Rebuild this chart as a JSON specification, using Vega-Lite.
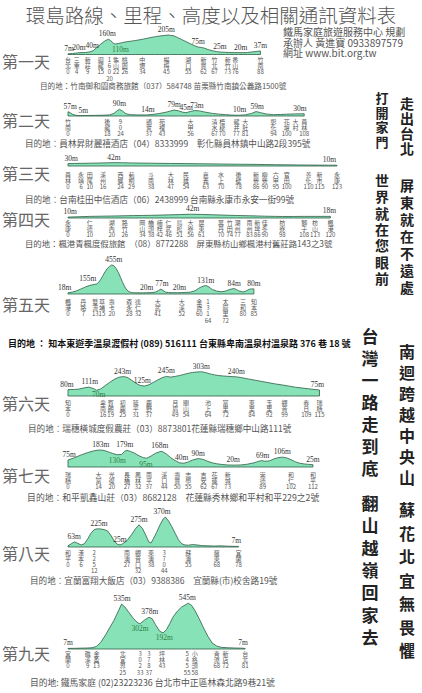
{
"$schema":"https://vega.github.io/schema/vega-lite/v6.json",
"padding":0,
"background":"white",
"config":{"view":{"stroke":null}},
"spacing":0,
"bounds":"flush",
"datasets":{
"profile":[
{"d":1,"km":0,"m":7},{"d":1,"km":2,"m":10},{"d":1,"km":4,"m":16},{"d":1,"km":6,"m":20},{"d":1,"km":8,"m":21},{"d":1,"km":10,"m":28},{"d":1,"km":11.5,"m":40},{"d":1,"km":13,"m":70},{"d":1,"km":15,"m":110},{"d":1,"km":17,"m":145},{"d":1,"km":18.5,"m":160},{"d":1,"km":19.5,"m":148},{"d":1,"km":20.5,"m":122},{"d":1,"km":21.5,"m":110},{"d":1,"km":23,"m":115},{"d":1,"km":25,"m":126},{"d":1,"km":27,"m":135},{"d":1,"km":29,"m":141},{"d":1,"km":31,"m":148},{"d":1,"km":34,"m":160},{"d":1,"km":37,"m":175},{"d":1,"km":40,"m":188},{"d":1,"km":42,"m":195},{"d":1,"km":44,"m":200},{"d":1,"km":46,"m":205},{"d":1,"km":47,"m":199},{"d":1,"km":48,"m":200},{"d":1,"km":50,"m":180},{"d":1,"km":52,"m":158},{"d":1,"km":54,"m":135},{"d":1,"km":56,"m":112},{"d":1,"km":58,"m":92},{"d":1,"km":59.5,"m":78},{"d":1,"km":61,"m":74},{"d":1,"km":62.5,"m":66},{"d":1,"km":64,"m":52},{"d":1,"km":66,"m":40},{"d":1,"km":68,"m":30},{"d":1,"km":70,"m":25},{"d":1,"km":72,"m":23},{"d":1,"km":74,"m":21},{"d":1,"km":76,"m":20},{"d":1,"km":78,"m":20},{"d":1,"km":80,"m":19},{"d":1,"km":82,"m":21},{"d":1,"km":84,"m":26},{"d":1,"km":86,"m":32},{"d":1,"km":88,"m":37},
{"d":2,"km":0,"m":57},{"d":2,"km":1,"m":45},{"d":2,"km":2,"m":25},{"d":2,"km":3.5,"m":10},{"d":2,"km":5,"m":5},{"d":2,"km":8,"m":6},{"d":2,"km":12,"m":8},{"d":2,"km":16,"m":10},{"d":2,"km":19,"m":15},{"d":2,"km":21,"m":35},{"d":2,"km":22.5,"m":70},{"d":2,"km":23.5,"m":90},{"d":2,"km":25,"m":65},{"d":2,"km":26.5,"m":30},{"d":2,"km":28.5,"m":18},{"d":2,"km":32,"m":14},{"d":2,"km":36,"m":14},{"d":2,"km":39,"m":22},{"d":2,"km":42,"m":35},{"d":2,"km":45,"m":52},{"d":2,"km":47,"m":68},{"d":2,"km":48.5,"m":79},{"d":2,"km":50.5,"m":70},{"d":2,"km":52.5,"m":50},{"d":2,"km":54,"m":45},{"d":2,"km":56,"m":60},{"d":2,"km":58,"m":73},{"d":2,"km":60,"m":68},{"d":2,"km":63,"m":50},{"d":2,"km":66,"m":35},{"d":2,"km":69,"m":25},{"d":2,"km":72,"m":18},{"d":2,"km":75,"m":12},{"d":2,"km":78,"m":10},{"d":2,"km":81,"m":15},{"d":2,"km":84,"m":35},{"d":2,"km":86,"m":59},{"d":2,"km":88,"m":45},{"d":2,"km":91,"m":25},{"d":2,"km":94,"m":18},{"d":2,"km":97,"m":20},{"d":2,"km":100,"m":24},{"d":2,"km":104,"m":28},{"d":2,"km":108,"m":30},
{"d":3,"km":0,"m":30},{"d":3,"km":3,"m":32},{"d":3,"km":6,"m":33},{"d":3,"km":10,"m":35},{"d":3,"km":14,"m":37},{"d":3,"km":18,"m":40},{"d":3,"km":21,"m":42},{"d":3,"km":25,"m":41},{"d":3,"km":29,"m":38},{"d":3,"km":34,"m":36},{"d":3,"km":38,"m":35},{"d":3,"km":43,"m":33},{"d":3,"km":47,"m":32},{"d":3,"km":54,"m":30},{"d":3,"km":60,"m":28},{"d":3,"km":63,"m":27},{"d":3,"km":70,"m":25},{"d":3,"km":78,"m":22},{"d":3,"km":86,"m":20},{"d":3,"km":90,"m":18},{"d":3,"km":95,"m":16},{"d":3,"km":100,"m":15},{"d":3,"km":105,"m":13},{"d":3,"km":110,"m":12},{"d":3,"km":115,"m":11},{"d":3,"km":119,"m":10},{"d":3,"km":123,"m":10},
{"d":4,"km":0,"m":10},{"d":4,"km":5,"m":14},{"d":4,"km":10,"m":18},{"d":4,"km":15,"m":20},{"d":4,"km":20,"m":22},{"d":4,"km":26,"m":25},{"d":4,"km":30,"m":27},{"d":4,"km":34,"m":28},{"d":4,"km":38,"m":30},{"d":4,"km":42,"m":32},{"d":4,"km":46,"m":35},{"d":4,"km":51,"m":38},{"d":4,"km":56,"m":42},{"d":4,"km":61,"m":40},{"d":4,"km":66,"m":36},{"d":4,"km":70,"m":33},{"d":4,"km":74,"m":30},{"d":4,"km":77,"m":28},{"d":4,"km":83,"m":25},{"d":4,"km":86,"m":23},{"d":4,"km":90,"m":20},{"d":4,"km":95,"m":18},{"d":4,"km":98,"m":17},{"d":4,"km":103,"m":17},{"d":4,"km":108,"m":18},{"d":4,"km":113,"m":18},{"d":4,"km":117,"m":18},{"d":4,"km":120,"m":18},
{"d":5,"km":0,"m":18},{"d":5,"km":2,"m":30},{"d":5,"km":4,"m":50},{"d":5,"km":6,"m":80},{"d":5,"km":8,"m":110},{"d":5,"km":10,"m":135},{"d":5,"km":12,"m":150},{"d":5,"km":13,"m":155},{"d":5,"km":14,"m":180},{"d":5,"km":15,"m":230},{"d":5,"km":16,"m":290},{"d":5,"km":17,"m":350},{"d":5,"km":18,"m":400},{"d":5,"km":19,"m":430},{"d":5,"km":20,"m":455},{"d":5,"km":21,"m":440},{"d":5,"km":22,"m":400},{"d":5,"km":23,"m":340},{"d":5,"km":24,"m":260},{"d":5,"km":25,"m":180},{"d":5,"km":26,"m":110},{"d":5,"km":27,"m":60},{"d":5,"km":28,"m":35},{"d":5,"km":29,"m":25},{"d":5,"km":30,"m":20},{"d":5,"km":32,"m":18},{"d":5,"km":34,"m":18},{"d":5,"km":36,"m":20},{"d":5,"km":38,"m":22},{"d":5,"km":40,"m":30},{"d":5,"km":41.5,"m":55},{"d":5,"km":42.5,"m":77},{"d":5,"km":43.5,"m":55},{"d":5,"km":44.5,"m":30},{"d":5,"km":46,"m":22},{"d":5,"km":48,"m":20},{"d":5,"km":50,"m":20},{"d":5,"km":52,"m":22},{"d":5,"km":54,"m":25},{"d":5,"km":56,"m":30},{"d":5,"km":58,"m":50},{"d":5,"km":59,"m":70},{"d":5,"km":60,"m":95},{"d":5,"km":62,"m":125},{"d":5,"km":63,"m":131},{"d":5,"km":64,"m":120},{"d":5,"km":65,"m":95},{"d":5,"km":66,"m":70},{"d":5,"km":68,"m":45},{"d":5,"km":70,"m":35},{"d":5,"km":72,"m":45},{"d":5,"km":73.5,"m":65},{"d":5,"km":75,"m":80},{"d":5,"km":76,"m":84},{"d":5,"km":77,"m":70},{"d":5,"km":78,"m":50},{"d":5,"km":80,"m":32},{"d":5,"km":81,"m":40},{"d":5,"km":82,"m":60},{"d":5,"km":83,"m":75},{"d":5,"km":84,"m":80},{"d":5,"km":85,"m":80},
{"d":6,"km":0,"m":80},{"d":6,"km":3,"m":82},{"d":6,"km":5,"m":86},{"d":6,"km":7,"m":100},{"d":6,"km":9.5,"m":111},{"d":6,"km":11.5,"m":95},{"d":6,"km":13,"m":72},{"d":6,"km":15,"m":88},{"d":6,"km":17,"m":130},{"d":6,"km":19,"m":170},{"d":6,"km":21,"m":205},{"d":6,"km":23,"m":232},{"d":6,"km":25,"m":243},{"d":6,"km":27,"m":235},{"d":6,"km":29,"m":200},{"d":6,"km":31,"m":160},{"d":6,"km":33,"m":132},{"d":6,"km":35,"m":125},{"d":6,"km":37,"m":140},{"d":6,"km":39,"m":170},{"d":6,"km":41,"m":200},{"d":6,"km":43,"m":228},{"d":6,"km":45,"m":245},{"d":6,"km":47,"m":236},{"d":6,"km":49,"m":245},{"d":6,"km":51,"m":256},{"d":6,"km":53,"m":270},{"d":6,"km":55,"m":284},{"d":6,"km":57,"m":294},{"d":6,"km":59,"m":300},{"d":6,"km":61,"m":303},{"d":6,"km":63,"m":292},{"d":6,"km":65,"m":276},{"d":6,"km":67,"m":264},{"d":6,"km":69,"m":255},{"d":6,"km":71,"m":250},{"d":6,"km":73,"m":246},{"d":6,"km":75,"m":242},{"d":6,"km":77,"m":240},{"d":6,"km":80,"m":226},{"d":6,"km":83,"m":210},{"d":6,"km":86,"m":195},{"d":6,"km":89,"m":180},{"d":6,"km":92,"m":165},{"d":6,"km":95,"m":150},{"d":6,"km":98,"m":138},{"d":6,"km":101,"m":124},{"d":6,"km":104,"m":110},{"d":6,"km":107,"m":100},{"d":6,"km":110,"m":90},{"d":6,"km":112.5,"m":82},{"d":6,"km":115,"m":75},
{"d":7,"km":0,"m":75},{"d":7,"km":3,"m":100},{"d":7,"km":6,"m":130},{"d":7,"km":9,"m":155},{"d":7,"km":12,"m":175},{"d":7,"km":14.5,"m":183},{"d":7,"km":16.5,"m":178},{"d":7,"km":18.5,"m":162},{"d":7,"km":20.5,"m":145},{"d":7,"km":22.5,"m":132},{"d":7,"km":24.5,"m":135},{"d":7,"km":26,"m":170},{"d":7,"km":27,"m":179},{"d":7,"km":28.5,"m":168},{"d":7,"km":30.5,"m":148},{"d":7,"km":32.5,"m":120},{"d":7,"km":34.5,"m":100},{"d":7,"km":36,"m":95},{"d":7,"km":38,"m":118},{"d":7,"km":40,"m":148},{"d":7,"km":42,"m":165},{"d":7,"km":43,"m":168},{"d":7,"km":45,"m":140},{"d":7,"km":47,"m":100},{"d":7,"km":49,"m":70},{"d":7,"km":51,"m":45},{"d":7,"km":53,"m":40},{"d":7,"km":55,"m":55},{"d":7,"km":57,"m":75},{"d":7,"km":59,"m":88},{"d":7,"km":60,"m":90},{"d":7,"km":62,"m":80},{"d":7,"km":64,"m":60},{"d":7,"km":66,"m":45},{"d":7,"km":68,"m":35},{"d":7,"km":70,"m":28},{"d":7,"km":73,"m":22},{"d":7,"km":76,"m":20},{"d":7,"km":79,"m":22},{"d":7,"km":82,"m":30},{"d":7,"km":85,"m":45},{"d":7,"km":87,"m":60},{"d":7,"km":88.5,"m":69},{"d":7,"km":90,"m":62},{"d":7,"km":92,"m":65},{"d":7,"km":94,"m":85},{"d":7,"km":96,"m":100},{"d":7,"km":98,"m":106},{"d":7,"km":100,"m":98},{"d":7,"km":102,"m":78},{"d":7,"km":104,"m":55},{"d":7,"km":106,"m":40},{"d":7,"km":108,"m":33},{"d":7,"km":110,"m":28},{"d":7,"km":112,"m":25},
{"d":8,"km":0,"m":15},{"d":8,"km":1.5,"m":40},{"d":8,"km":3,"m":63},{"d":8,"km":4.5,"m":45},{"d":8,"km":6,"m":25},{"d":8,"km":7.5,"m":40},{"d":8,"km":9,"m":100},{"d":8,"km":10.5,"m":170},{"d":8,"km":12,"m":215},{"d":8,"km":13.5,"m":225},{"d":8,"km":15,"m":222},{"d":8,"km":16.5,"m":215},{"d":8,"km":18,"m":200},{"d":8,"km":19.5,"m":150},{"d":8,"km":21,"m":80},{"d":8,"km":22.5,"m":35},{"d":8,"km":23.8,"m":25},{"d":8,"km":25,"m":40},{"d":8,"km":27,"m":80},{"d":8,"km":29,"m":150},{"d":8,"km":31,"m":230},{"d":8,"km":32.5,"m":275},{"d":8,"km":34,"m":230},{"d":8,"km":35.5,"m":150},{"d":8,"km":37,"m":60},{"d":8,"km":38,"m":50},{"d":8,"km":39,"m":100},{"d":8,"km":40.5,"m":180},{"d":8,"km":42,"m":270},{"d":8,"km":43.5,"m":345},{"d":8,"km":44.5,"m":370},{"d":8,"km":46,"m":320},{"d":8,"km":47.5,"m":250},{"d":8,"km":49,"m":170},{"d":8,"km":50.5,"m":90},{"d":8,"km":52,"m":40},{"d":8,"km":53.5,"m":25},{"d":8,"km":55,"m":22},{"d":8,"km":57,"m":30},{"d":8,"km":59,"m":25},{"d":8,"km":61,"m":18},{"d":8,"km":64,"m":14},{"d":8,"km":67,"m":12},{"d":8,"km":70,"m":14},{"d":8,"km":73,"m":10},{"d":8,"km":76,"m":8},{"d":8,"km":78,"m":7},
{"d":9,"km":0,"m":7},{"d":9,"km":3,"m":8},{"d":9,"km":6,"m":10},{"d":9,"km":9,"m":12},{"d":9,"km":11,"m":15},{"d":9,"km":13,"m":30},{"d":9,"km":15,"m":80},{"d":9,"km":17,"m":160},{"d":9,"km":19,"m":250},{"d":9,"km":21,"m":340},{"d":9,"km":23,"m":450},{"d":9,"km":24.5,"m":535},{"d":9,"km":26,"m":500},{"d":9,"km":28,"m":430},{"d":9,"km":30,"m":360},{"d":9,"km":32,"m":310},{"d":9,"km":33,"m":302},{"d":9,"km":35,"m":345},{"d":9,"km":37,"m":378},{"d":9,"km":38.5,"m":360},{"d":9,"km":40,"m":290},{"d":9,"km":42,"m":210},{"d":9,"km":43.5,"m":192},{"d":9,"km":45,"m":230},{"d":9,"km":46.5,"m":300},{"d":9,"km":48,"m":380},{"d":9,"km":50,"m":450},{"d":9,"km":52,"m":500},{"d":9,"km":54,"m":530},{"d":9,"km":55,"m":545},{"d":9,"km":56.5,"m":520},{"d":9,"km":58,"m":460},{"d":9,"km":60,"m":360},{"d":9,"km":62,"m":250},{"d":9,"km":64,"m":150},{"d":9,"km":66,"m":70},{"d":9,"km":68,"m":35},{"d":9,"km":70,"m":20},{"d":9,"km":73,"m":15},{"d":9,"km":76,"m":12},{"d":9,"km":79,"m":10},{"d":9,"km":81,"m":7}
],
"labels":[
{"d":1,"km":0.5,"m":7,"t":"7m","k":"t"},{"d":1,"km":5,"m":20,"t":"20m","k":"t"},{"d":1,"km":11,"m":40,"t":"40m","k":"t"},{"d":1,"km":18,"m":160,"t":"160m","k":"t"},{"d":1,"km":24,"m":110,"t":"110m","k":"i"},{"d":1,"km":45,"m":205,"t":"205m","k":"t"},{"d":1,"km":59.5,"m":75,"t":"75m","k":"t"},{"d":1,"km":69.5,"m":25,"t":"25m","k":"t"},{"d":1,"km":79,"m":20,"t":"20m","k":"t"},{"d":1,"km":88,"m":37,"t":"37m","k":"t"},
{"d":2,"km":1,"m":57,"t":"57m","k":"t"},{"d":2,"km":7,"m":5,"t":"5m","k":"t"},{"d":2,"km":23.5,"m":90,"t":"90m","k":"t"},{"d":2,"km":36.5,"m":14,"t":"14m","k":"t"},{"d":2,"km":48.5,"m":79,"t":"79m","k":"t"},{"d":2,"km":54,"m":45,"t":"45m","k":"t"},{"d":2,"km":59,"m":73,"t":"73m","k":"t"},{"d":2,"km":78.5,"m":10,"t":"10m","k":"t"},{"d":2,"km":86.5,"m":59,"t":"59m","k":"t"},{"d":2,"km":106,"m":30,"t":"30m","k":"t"},
{"d":3,"km":1.5,"m":30,"t":"30m","k":"t"},{"d":3,"km":21,"m":42,"t":"42m","k":"t"},{"d":3,"km":119.5,"m":10,"t":"10m","k":"t"},
{"d":4,"km":1,"m":10,"t":"10m","k":"t"},{"d":4,"km":57,"m":42,"t":"42m","k":"t"},{"d":4,"km":119.5,"m":18,"t":"18m","k":"t"},
{"d":5,"km":-1.5,"m":18,"t":"18m","k":"t"},{"d":5,"km":9,"m":155,"t":"155m","k":"t"},{"d":5,"km":21,"m":455,"t":"455m","k":"t"},{"d":5,"km":36,"m":20,"t":"20m","k":"t"},{"d":5,"km":43,"m":77,"t":"77m","k":"t"},{"d":5,"km":51,"m":20,"t":"20m","k":"t"},{"d":5,"km":63,"m":131,"t":"131m","k":"t"},{"d":5,"km":76,"m":84,"t":"84m","k":"t"},{"d":5,"km":85,"m":80,"t":"80m","k":"t"},
{"d":6,"km":-0.5,"m":80,"t":"80m","k":"t"},{"d":6,"km":10,"m":111,"t":"111m","k":"t"},{"d":6,"km":14,"m":70,"t":"70m","k":"i"},{"d":6,"km":25,"m":243,"t":"243m","k":"t"},{"d":6,"km":34,"m":125,"t":"125m","k":"t"},{"d":6,"km":45,"m":245,"t":"245m","k":"t"},{"d":6,"km":61,"m":303,"t":"303m","k":"t"},{"d":6,"km":77,"m":240,"t":"240m","k":"t"},{"d":6,"km":114,"m":75,"t":"75m","k":"t"},
{"d":7,"km":0.5,"m":75,"t":"75m","k":"t"},{"d":7,"km":15,"m":183,"t":"183m","k":"t"},{"d":7,"km":22.5,"m":130,"t":"130m","k":"i"},{"d":7,"km":26,"m":179,"t":"179m","k":"t"},{"d":7,"km":35.6,"m":95,"t":"95m","k":"i"},{"d":7,"km":42,"m":168,"t":"168m","k":"t"},{"d":7,"km":52,"m":40,"t":"40m","k":"t"},{"d":7,"km":59.5,"m":90,"t":"90m","k":"t"},{"d":7,"km":75.5,"m":20,"t":"20m","k":"t"},{"d":7,"km":89,"m":69,"t":"69m","k":"t"},{"d":7,"km":98,"m":106,"t":"106m","k":"t"},{"d":7,"km":112,"m":25,"t":"25m","k":"t"},
{"d":8,"km":2.8,"m":63,"t":"63m","k":"t"},{"d":8,"km":14.2,"m":225,"t":"225m","k":"t"},{"d":8,"km":23.8,"m":25,"t":"25m","k":"t"},{"d":8,"km":32.5,"m":275,"t":"275m","k":"t"},{"d":8,"km":43,"m":370,"t":"370m","k":"t"},{"d":8,"km":77,"m":7,"t":"7m","k":"t"},
{"d":9,"km":0,"m":7,"t":"7m","k":"t"},{"d":9,"km":24.7,"m":535,"t":"535m","k":"t"},{"d":9,"km":33,"m":302,"t":"302m","k":"i"},{"d":9,"km":37.4,"m":378,"t":"378m","k":"t"},{"d":9,"km":44,"m":192,"t":"192m","k":"i"},{"d":9,"km":54.5,"m":545,"t":"545m","k":"t"},{"d":9,"km":80,"m":7,"t":"7m","k":"t"}
],
"towns":[
{"d":1,"km":0,"t":"台\n北\n0"},{"d":1,"km":4,"t":"三\n重\n4"},{"d":1,"km":9,"t":"新\n莊\n9"},{"d":1,"km":15,"t":"迴\n龍\n15"},{"d":1,"km":19,"t":"1\n6\n0\n20"},{"d":1,"km":22,"t":"龜\n山\n22"},{"d":1,"km":26,"t":"桃\n園\n26"},{"d":1,"km":34,"t":"中\n壢\n34"},{"d":1,"km":45,"t":"楊\n梅\n45"},{"d":1,"km":55,"t":"湖\n口\n55"},{"d":1,"km":62,"t":"新\n豐\n62"},{"d":1,"km":67,"t":"竹\n北\n67"},{"d":1,"km":73,"t":"新\n竹\n73"},{"d":1,"km":76.5,"t":"香\n山\n76"},{"d":1,"km":88,"t":"竹\n南\n88"},
{"d":2,"km":0,"t":"竹\n南\n0"},{"d":2,"km":18,"t":"後\n龍\n18"},{"d":2,"km":24,"t":"9\n0\n24"},{"d":2,"km":37,"t":"通\n霄\n37"},{"d":2,"km":43,"t":"苑\n裡\n43"},{"d":2,"km":56,"t":"大\n甲\n56"},{"d":2,"km":67,"t":"清\n水\n67"},{"d":2,"km":70.5,"t":"梧\n棲\n70"},{"d":2,"km":77,"t":"龍\n井\n77"},{"d":2,"km":81,"t":"大\n肚\n81"},{"d":2,"km":94,"t":"彰\n化\n94"},{"d":2,"km":100,"t":"花\n壇\n100"},{"d":2,"km":104,"t":"大\n村"},{"d":2,"km":108,"t":"員\n林\n108"},
{"d":3,"km":0,"t":"員\n林\n0"},{"d":3,"km":6,"t":"永\n靖\n6"},{"d":3,"km":10,"t":"田\n尾\n10"},{"d":3,"km":16,"t":"溪\n州\n16"},{"d":3,"km":24,"t":"西\n螺\n24"},{"d":3,"km":29,"t":"莿\n桐\n29"},{"d":3,"km":38,"t":"斗\n南\n38"},{"d":3,"km":47,"t":"大\n林\n47"},{"d":3,"km":54,"t":"民\n雄\n54"},{"d":3,"km":63,"t":"嘉\n義\n63"},{"d":3,"km":70,"t":"水\n上\n70"},{"d":3,"km":78,"t":"後\n壁\n78"},{"d":3,"km":86,"t":"新\n營\n86"},{"d":3,"km":90,"t":"柳\n營\n90"},{"d":3,"km":95,"t":"六\n甲\n95"},{"d":3,"km":100,"t":"官\n田\n100"},{"d":3,"km":110,"t":"善\n化\n110"},{"d":3,"km":115,"t":"新\n市\n115"},{"d":3,"km":123,"t":"永\n康\n123"},
{"d":4,"km":0,"t":"永\n康\n0"},{"d":4,"km":10,"t":"仁\n德\n10"},{"d":4,"km":20,"t":"湖\n內\n20"},{"d":4,"km":26,"t":"路\n竹\n26"},{"d":4,"km":34,"t":"岡\n山\n34"},{"d":4,"km":38,"t":"橋\n頭\n38"},{"d":4,"km":42,"t":"楠\n梓\n42"},{"d":4,"km":46,"t":"仁\n武\n46"},{"d":4,"km":51,"t":"鳥\n松\n51"},{"d":4,"km":56,"t":"大\n寮\n56"},{"d":4,"km":61,"t":"屏\n東\n61"},{"d":4,"km":70,"t":"萬\n丹\n70"},{"d":4,"km":74,"t":"竹\n田\n74"},{"d":4,"km":77.5,"t":"潮\n州\n77"},{"d":4,"km":83,"t":"南\n州\n83"},{"d":4,"km":86.5,"t":"新\n埤\n86"},{"d":4,"km":90,"t":"佳\n冬\n90"},{"d":4,"km":98,"t":"枋\n寮\n98"},{"d":4,"km":108,"t":"獅\n子\n108"},{"d":4,"km":113,"t":"枋\n山\n113"},{"d":4,"km":120,"t":"楓\n港\n120"},
{"d":5,"km":0,"t":"楓\n港\n0"},{"d":5,"km":7,"t":"丹\n路\n7"},{"d":5,"km":12.5,"t":"雙\n流\n13"},{"d":5,"km":15.5,"t":"草\n埔\n15"},{"d":5,"km":20,"t":"壽\n卡\n20"},{"d":5,"km":28,"t":"森\n永\n28"},{"d":5,"km":32,"t":"達\n仁\n32"},{"d":5,"km":41,"t":"大\n武\n41"},{"d":5,"km":52,"t":"大\n溪\n52"},{"d":5,"km":60,"t":"金\n崙\n60"},{"d":5,"km":64,"t":"1\n3\n1\n64"},{"d":5,"km":72,"t":"太\n麻\n里\n72"},{"d":5,"km":80,"t":"三\n和\n80"},{"d":5,"km":85,"t":"知\n本\n85"},
{"d":6,"km":0,"t":"知\n本\n0"},{"d":6,"km":16,"t":"卑\n南\n16"},{"d":6,"km":19.5,"t":"賓\n朗\n19"},{"d":6,"km":25,"t":"初\n鹿\n25"},{"d":6,"km":31,"t":"延\n平\n31"},{"d":6,"km":37,"t":"鹿\n野\n37"},{"d":6,"km":49,"t":"月\n眉\n49"},{"d":6,"km":54,"t":"關\n山\n54"},{"d":6,"km":64,"t":"池\n上\n64"},{"d":6,"km":72,"t":"富\n里\n72"},{"d":6,"km":84,"t":"東\n里\n84"},{"d":6,"km":92,"t":"玉\n里\n92"},{"d":6,"km":99,"t":"觀\n音\n99"},{"d":6,"km":109,"t":"春\n日\n109"},{"d":6,"km":115,"t":"瑞\n穗\n115"},
{"d":7,"km":0,"t":"瑞\n穗\n0"},{"d":7,"km":14,"t":"大\n富\n14"},{"d":7,"km":20,"t":"光\n復\n20"},{"d":7,"km":27,"t":"長\n橋\n27"},{"d":7,"km":32,"t":"鳳\n林\n32"},{"d":7,"km":37,"t":"南\n平\n37"},{"d":7,"km":44,"t":"溪\n口\n44"},{"d":7,"km":50,"t":"壽\n豐\n50"},{"d":7,"km":55,"t":"志\n學\n55"},{"d":7,"km":62,"t":"吉\n安\n62"},{"d":7,"km":67,"t":"花\n蓮\n67"},{"d":7,"km":73,"t":"新\n城\n73"},{"d":7,"km":89,"t":"崇\n德\n89"},{"d":7,"km":102,"t":"和\n仁\n102"},{"d":7,"km":112,"t":"和\n平\n112"},
{"d":8,"km":0,"t":"和\n平\n0"},{"d":8,"km":6,"t":"漢\n本\n6"},{"d":8,"km":12,"t":"2\n2\n5\n12"},{"d":8,"km":27,"t":"南\n澳\n27"},{"d":8,"km":32,"t":"觀\n音\n口\n32"},{"d":8,"km":38,"t":"東\n澳\n38"},{"d":8,"km":44,"t":"3\n7\n0\n44"},{"d":8,"km":55,"t":"蘇\n澳\n55"},{"d":8,"km":68,"t":"羅\n東\n68"},{"d":8,"km":78,"t":"宜\n蘭\n78"},
{"d":9,"km":0,"t":"宜\n蘭\n0"},{"d":9,"km":9,"t":"礁\n溪\n9"},{"d":9,"km":13,"t":"金\n盈\n13"},{"d":9,"km":25,"t":"北\n宜\n界\n25"},{"d":9,"km":33,"t":"3\n0\n2\n33"},{"d":9,"km":37,"t":"3\n7\n8\n37"},{"d":9,"km":43,"t":"坪\n林\n43"},{"d":9,"km":54.5,"t":"5\n4\n5\n55"},{"d":9,"km":58,"t":"小\n格\n頭\n58"},{"d":9,"km":68,"t":"青\n潭\n68"},{"d":9,"km":72,"t":"新\n店\n72"},{"d":9,"km":81,"t":"台\n北\n81"}
],
"days":[
{"d":1,"name":"第一天","dest":"目的地：竹南御和園商務旅館（037）584748 苗栗縣竹南鎮公義路1500號"},
{"d":2,"name":"第二天","dest":"目的地：員林昇財麗禧酒店（04）8333999　彰化縣員林鎮中山路2段395號"},
{"d":3,"name":"第三天","dest":"目的地：台南桂田中信酒店（06）2438999 台南縣永康市永安一街99號"},
{"d":4,"name":"第四天","dest":"目的地：楓港青楓度假旅館　（08）8772288　屏東縣枋山鄉楓港村舊莊路143之3號"},
{"d":5,"name":"第五天","dest":"目的地 ： 知本東遊季溫泉渡假村 (089) 516111 台東縣卑南溫泉村溫泉路 376 巷 18 號"},
{"d":6,"name":"第六天","dest":"目的地：瑞穗橫城度假農莊（03）8873801花蓮縣瑞穗鄉中山路111號"},
{"d":7,"name":"第七天","dest":"目的地：和平凱鑫山莊（03）8682128　花蓮縣秀林鄉和平村和平229之2號"},
{"d":8,"name":"第八天","dest":"目的地：宜蘭富翔大飯店（03）9388386　宜蘭縣(市)校舍路19號"},
{"d":9,"name":"第九天","dest":"目的地: 鐵馬家庭 (02)23223236 台北市中正區林森北路9巷21號"}
],
"texts":[
{"id":"title","t":"環島路線、里程、高度以及相關通訊資料表"},
{"id":"head","t":"鐵馬家庭旅遊服務中心 規劃\n承辦人  黃進寶    0933897579\n網址 www.bit.org.tw"},
{"id":"s1","t":"打\n開\n家\n門"},
{"id":"s2","t":"走\n出\n台\n北"},
{"id":"s3","t":"世\n界\n就\n在\n您\n眼\n前"},
{"id":"s4","t":"屏\n東\n就\n在\n不\n遠\n處"},
{"id":"s5","t":"台\n灣\n一\n路\n走\n到\n底"},
{"id":"s6","t":"南\n迴\n跨\n越\n中\n央\n山"},
{"id":"s7","t":"翻\n山\n越\n嶺\n回\n家\n去"},
{"id":"s8","t":"蘇\n花\n北\n宜\n無\n畏\n懼"}
]
},
"vconcat":[
{"width":422,"height":96,"layer":[
{"data":{"name":"profile"},"transform":[{"filter":"datum.d==1"}],"mark":{"type":"area","fill":"#88e2b8","stroke":"#2f5d45","strokeWidth":0.8},"encoding":{"x":{"field":"km","type":"quantitative","scale":{"domain":[-31.09,161.87],"nice":false,"zero":false},"axis":null},"y":{"field":"m","type":"quantitative","scale":{"domain":[-436.84,573.68],"nice":false,"zero":false},"axis":null},"y2":{"datum":0}}},
{"data":{"name":"labels"},"transform":[{"filter":"datum.d==1 && datum.k=='t'"}],"mark":{"type":"text","baseline":"bottom","dy":-1,"fontSize":7.5,"font":"Liberation Serif","fill":"#333"},"encoding":{"x":{"field":"km","type":"quantitative"},"y":{"field":"m","type":"quantitative"},"text":{"field":"t"}}},
{"data":{"name":"labels"},"transform":[{"filter":"datum.d==1 && datum.k=='i'"}],"mark":{"type":"text","baseline":"top","dy":1.5,"fontSize":7.5,"font":"Liberation Serif","fill":"#2d7d3f"},"encoding":{"x":{"field":"km","type":"quantitative"},"y":{"field":"m","type":"quantitative"},"text":{"field":"t"}}},
{"data":{"name":"towns"},"transform":[{"filter":"datum.d==1"}],"mark":{"type":"text","baseline":"top","dy":2.5,"fontSize":6,"lineHeight":6.2,"lineBreak":"\n","font":"Noto Sans CJK TC","fill":"#555"},"encoding":{"x":{"field":"km","type":"quantitative"},"y":{"datum":0},"text":{"field":"t"}}},
{"data":{"name":"days"},"transform":[{"filter":"datum.d==1"}],"mark":{"type":"text","align":"left","baseline":"middle","dy":8.5,"fontSize":16,"font":"Noto Sans CJK TC","fill":"#666"},"encoding":{"x":{"datum":-30.2},"y":{"datum":0},"text":{"field":"name"}}},
{"data":{"name":"days"},"transform":[{"filter":"datum.d==1"}],"mark":{"type":"text","align":"left","baseline":"middle","dy":32.5,"fontSize":7.6,"font":"Noto Sans CJK TC","fill":"#555"},"encoding":{"x":{"datum":-12.8},"y":{"datum":0},"text":{"field":"dest"}}},
{"data":{"name":"texts"},"transform":[{"filter":"datum.id=='title'"}],"mark":{"type":"text","align":"center","baseline":"middle","dy":-37.5,"fontSize":19.5,"fontWeight":300,"font":"Noto Sans CJK TC","fill":"#555"},"encoding":{"x":{"datum":65.4},"y":{"datum":0},"text":{"field":"t"}}},
{"data":{"name":"texts"},"transform":[{"filter":"datum.id=='head'"}],"mark":{"type":"text","align":"left","baseline":"top","dy":-26,"fontSize":10,"lineHeight":10.2,"lineBreak":"\n","font":"Noto Sans CJK TC","fill":"#555"},"encoding":{"x":{"datum":98.3},"y":{"datum":0},"text":{"field":"t"}}}
]},
{"width":422,"height":54,"layer":[
{"data":{"name":"profile"},"transform":[{"filter":"datum.d==2"}],"mark":{"type":"area","fill":"#88e2b8","stroke":"#2f5d45","strokeWidth":0.8},"encoding":{"x":{"field":"km","type":"quantitative","scale":{"domain":[-31.09,161.87],"nice":false,"zero":false},"axis":null},"y":{"field":"m","type":"quantitative","scale":{"domain":[-453.33,266.67],"nice":false,"zero":false},"axis":null},"y2":{"datum":0}}},
{"data":{"name":"labels"},"transform":[{"filter":"datum.d==2 && datum.k=='t'"}],"mark":{"type":"text","baseline":"bottom","dy":-1,"fontSize":7.5,"font":"Liberation Serif","fill":"#333"},"encoding":{"x":{"field":"km","type":"quantitative"},"y":{"field":"m","type":"quantitative"},"text":{"field":"t"}}},
{"data":{"name":"towns"},"transform":[{"filter":"datum.d==2"}],"mark":{"type":"text","baseline":"top","dy":3,"fontSize":6,"lineHeight":6.2,"lineBreak":"\n","font":"Noto Sans CJK TC","fill":"#555"},"encoding":{"x":{"field":"km","type":"quantitative"},"y":{"datum":0},"text":{"field":"t"}}},
{"data":{"name":"days"},"transform":[{"filter":"datum.d==2"}],"mark":{"type":"text","align":"left","baseline":"middle","dy":6,"fontSize":16,"font":"Noto Sans CJK TC","fill":"#666"},"encoding":{"x":{"datum":-30.2},"y":{"datum":0},"text":{"field":"name"}}},
{"data":{"name":"days"},"transform":[{"filter":"datum.d==2"}],"mark":{"type":"text","align":"left","baseline":"middle","dy":28,"fontSize":8.6,"font":"Noto Sans CJK TC","fill":"#555"},"encoding":{"x":{"datum":-19.7},"y":{"datum":0},"text":{"field":"dest"}}},
{"data":{"name":"texts"},"transform":[{"filter":"datum.id=='s1'"}],"mark":{"type":"text","align":"center","baseline":"top","dy":-23,"fontSize":13,"lineHeight":14.5,"lineBreak":"\n","font":"Noto Sans CJK TC","fontWeight":"bold","fill":"#222"},"encoding":{"x":{"datum":143.6},"y":{"datum":0},"text":{"field":"t"}}},
{"data":{"name":"texts"},"transform":[{"filter":"datum.id=='s2'"}],"mark":{"type":"text","align":"center","baseline":"top","dy":-18,"fontSize":14,"lineHeight":15,"lineBreak":"\n","font":"Noto Sans CJK TC","fontWeight":"bold","fill":"#222"},"encoding":{"x":{"datum":155},"y":{"datum":0},"text":{"field":"t"}}},
{"data":{"name":"texts"},"transform":[{"filter":"datum.id=='s3'"}],"mark":{"type":"text","align":"center","baseline":"top","dy":59,"fontSize":14,"lineHeight":16.3,"lineBreak":"\n","font":"Noto Sans CJK TC","fontWeight":"bold","fill":"#222"},"encoding":{"x":{"datum":143.6},"y":{"datum":0},"text":{"field":"t"}}},
{"data":{"name":"texts"},"transform":[{"filter":"datum.id=='s4'"}],"mark":{"type":"text","align":"center","baseline":"top","dy":64,"fontSize":14,"lineHeight":17,"lineBreak":"\n","font":"Noto Sans CJK TC","fontWeight":"bold","fill":"#222"},"encoding":{"x":{"datum":155},"y":{"datum":0},"text":{"field":"t"}}}
]},
{"width":422,"height":52,"layer":[
{"data":{"name":"profile"},"transform":[{"filter":"datum.d==3"}],"mark":{"type":"area","fill":"#88e2b8","stroke":"#2f5d45","strokeWidth":0.8},"encoding":{"x":{"field":"km","type":"quantitative","scale":{"domain":[-31.09,161.87],"nice":false,"zero":false},"axis":null},"y":{"field":"m","type":"quantitative","scale":{"domain":[-450,200],"nice":false,"zero":false},"axis":null},"y2":{"datum":0}}},
{"data":{"name":"labels"},"transform":[{"filter":"datum.d==3 && datum.k=='t'"}],"mark":{"type":"text","baseline":"bottom","dy":-1,"fontSize":7.5,"font":"Liberation Serif","fill":"#333"},"encoding":{"x":{"field":"km","type":"quantitative"},"y":{"field":"m","type":"quantitative"},"text":{"field":"t"}}},
{"data":{"name":"towns"},"transform":[{"filter":"datum.d==3"}],"mark":{"type":"text","baseline":"top","dy":6,"fontSize":6,"lineHeight":6.2,"lineBreak":"\n","font":"Noto Sans CJK TC","fill":"#555"},"encoding":{"x":{"field":"km","type":"quantitative"},"y":{"datum":0},"text":{"field":"t"}}},
{"data":{"name":"days"},"transform":[{"filter":"datum.d==3"}],"mark":{"type":"text","align":"left","baseline":"middle","dy":9,"fontSize":16,"font":"Noto Sans CJK TC","fill":"#666"},"encoding":{"x":{"datum":-30.2},"y":{"datum":0},"text":{"field":"name"}}},
{"data":{"name":"days"},"transform":[{"filter":"datum.d==3"}],"mark":{"type":"text","align":"left","baseline":"middle","dy":34,"fontSize":8.6,"font":"Noto Sans CJK TC","fill":"#555"},"encoding":{"x":{"datum":-19.7},"y":{"datum":0},"text":{"field":"dest"}}}
]},
{"width":422,"height":50,"layer":[
{"data":{"name":"profile"},"transform":[{"filter":"datum.d==4"}],"mark":{"type":"area","fill":"#88e2b8","stroke":"#2f5d45","strokeWidth":0.8},"encoding":{"x":{"field":"km","type":"quantitative","scale":{"domain":[-31.09,161.87],"nice":false,"zero":false},"axis":null},"y":{"field":"m","type":"quantitative","scale":{"domain":[-377.78,177.78],"nice":false,"zero":false},"axis":null},"y2":{"datum":0}}},
{"data":{"name":"labels"},"transform":[{"filter":"datum.d==4 && datum.k=='t'"}],"mark":{"type":"text","baseline":"bottom","dy":-1,"fontSize":7.5,"font":"Liberation Serif","fill":"#333"},"encoding":{"x":{"field":"km","type":"quantitative"},"y":{"field":"m","type":"quantitative"},"text":{"field":"t"}}},
{"data":{"name":"towns"},"transform":[{"filter":"datum.d==4"}],"mark":{"type":"text","baseline":"top","dy":1.5,"fontSize":6,"lineHeight":6.2,"lineBreak":"\n","font":"Noto Sans CJK TC","fill":"#555"},"encoding":{"x":{"field":"km","type":"quantitative"},"y":{"datum":0},"text":{"field":"t"}}},
{"data":{"name":"days"},"transform":[{"filter":"datum.d==4"}],"mark":{"type":"text","align":"left","baseline":"middle","dy":3,"fontSize":16,"font":"Noto Sans CJK TC","fill":"#666"},"encoding":{"x":{"datum":-30.2},"y":{"datum":0},"text":{"field":"name"}}},
{"data":{"name":"days"},"transform":[{"filter":"datum.d==4"}],"mark":{"type":"text","align":"left","baseline":"middle","dy":26,"fontSize":8.4,"font":"Noto Sans CJK TC","fill":"#555"},"encoding":{"x":{"datum":-19.7},"y":{"datum":0},"text":{"field":"dest"}}}
]},
{"width":422,"height":100,"layer":[
{"data":{"name":"profile"},"transform":[{"filter":"datum.d==5"}],"mark":{"type":"area","fill":"#88e2b8","stroke":"#2f5d45","strokeWidth":0.8},"encoding":{"x":{"field":"km","type":"quantitative","scale":{"domain":[-31.09,161.87],"nice":false,"zero":false},"axis":null},"y":{"field":"m","type":"quantitative","scale":{"domain":[-906.25,656.25],"nice":false,"zero":false},"axis":null},"y2":{"datum":0}}},
{"data":{"name":"labels"},"transform":[{"filter":"datum.d==5 && datum.k=='t'"}],"mark":{"type":"text","baseline":"bottom","dy":-1,"fontSize":7.5,"font":"Liberation Serif","fill":"#333"},"encoding":{"x":{"field":"km","type":"quantitative"},"y":{"field":"m","type":"quantitative"},"text":{"field":"t"}}},
{"data":{"name":"towns"},"transform":[{"filter":"datum.d==5"}],"mark":{"type":"text","baseline":"top","dy":5,"fontSize":6,"lineHeight":6.2,"lineBreak":"\n","font":"Noto Sans CJK TC","fill":"#555"},"encoding":{"x":{"field":"km","type":"quantitative"},"y":{"datum":0},"text":{"field":"t"}}},
{"data":{"name":"days"},"transform":[{"filter":"datum.d==5"}],"mark":{"type":"text","align":"left","baseline":"middle","dy":12,"fontSize":16,"font":"Noto Sans CJK TC","fill":"#666"},"encoding":{"x":{"datum":-30.2},"y":{"datum":0},"text":{"field":"name"}}},
{"data":{"name":"days"},"transform":[{"filter":"datum.d==5"}],"mark":{"type":"text","align":"left","baseline":"middle","dy":50,"fontSize":9,"fontWeight":"bold","font":"Noto Sans CJK TC","fill":"#111"},"encoding":{"x":{"datum":-27.4},"y":{"datum":0},"text":{"field":"dest"}}},
{"data":{"name":"texts"},"transform":[{"filter":"datum.id=='s5'"}],"mark":{"type":"text","align":"center","baseline":"top","dy":36,"fontSize":17,"lineHeight":22,"lineBreak":"\n","font":"Noto Sans CJK TC","fontWeight":"bold","fill":"#222"},"encoding":{"x":{"datum":138.1},"y":{"datum":0},"text":{"field":"t"}}},
{"data":{"name":"texts"},"transform":[{"filter":"datum.id=='s6'"}],"mark":{"type":"text","align":"center","baseline":"top","dy":51,"fontSize":16,"lineHeight":21,"lineBreak":"\n","font":"Noto Sans CJK TC","fontWeight":"bold","fill":"#222"},"encoding":{"x":{"datum":155},"y":{"datum":0},"text":{"field":"t"}}},
{"data":{"name":"texts"},"transform":[{"filter":"datum.id=='s7'"}],"mark":{"type":"text","align":"center","baseline":"top","dy":203,"fontSize":17,"lineHeight":22.3,"lineBreak":"\n","font":"Noto Sans CJK TC","fontWeight":"bold","fill":"#222"},"encoding":{"x":{"datum":138.1},"y":{"datum":0},"text":{"field":"t"}}},
{"data":{"name":"texts"},"transform":[{"filter":"datum.id=='s8'"}],"mark":{"type":"text","align":"center","baseline":"top","dy":209,"fontSize":16,"lineHeight":23.5,"lineBreak":"\n","font":"Noto Sans CJK TC","fontWeight":"bold","fill":"#222"},"encoding":{"x":{"datum":155},"y":{"datum":0},"text":{"field":"t"}}}
]},
{"width":422,"height":85,"layer":[
{"data":{"name":"profile"},"transform":[{"filter":"datum.d==6"}],"mark":{"type":"area","fill":"#88e2b8","stroke":"#2f5d45","strokeWidth":0.8},"encoding":{"x":{"field":"km","type":"quantitative","scale":{"domain":[-31.09,161.87],"nice":false,"zero":false},"axis":null},"y":{"field":"m","type":"quantitative","scale":{"domain":[-512.5,550],"nice":false,"zero":false},"axis":null},"y2":{"datum":0}}},
{"data":{"name":"labels"},"transform":[{"filter":"datum.d==6 && datum.k=='t'"}],"mark":{"type":"text","baseline":"bottom","dy":-1,"fontSize":7.5,"font":"Liberation Serif","fill":"#333"},"encoding":{"x":{"field":"km","type":"quantitative"},"y":{"field":"m","type":"quantitative"},"text":{"field":"t"}}},
{"data":{"name":"labels"},"transform":[{"filter":"datum.d==6 && datum.k=='i'"}],"mark":{"type":"text","baseline":"top","dy":1,"fontSize":7.5,"font":"Liberation Serif","fill":"#2d7d3f"},"encoding":{"x":{"field":"km","type":"quantitative"},"y":{"field":"m","type":"quantitative"},"text":{"field":"t"}}},
{"data":{"name":"towns"},"transform":[{"filter":"datum.d==6"}],"mark":{"type":"text","baseline":"top","dy":4,"fontSize":6,"lineHeight":6.2,"lineBreak":"\n","font":"Noto Sans CJK TC","fill":"#555"},"encoding":{"x":{"field":"km","type":"quantitative"},"y":{"datum":0},"text":{"field":"t"}}},
{"data":{"name":"days"},"transform":[{"filter":"datum.d==6"}],"mark":{"type":"text","align":"left","baseline":"middle","dy":9,"fontSize":16,"font":"Noto Sans CJK TC","fill":"#666"},"encoding":{"x":{"datum":-30.2},"y":{"datum":0},"text":{"field":"name"}}},
{"data":{"name":"days"},"transform":[{"filter":"datum.d==6"}],"mark":{"type":"text","align":"left","baseline":"middle","dy":33,"fontSize":8.6,"font":"Noto Sans CJK TC","fill":"#555"},"encoding":{"x":{"datum":-18.3},"y":{"datum":0},"text":{"field":"dest"}}}
]},
{"width":422,"height":68,"layer":[
{"data":{"name":"profile"},"transform":[{"filter":"datum.d==7"}],"mark":{"type":"area","fill":"#88e2b8","stroke":"#2f5d45","strokeWidth":0.8},"encoding":{"x":{"field":"km","type":"quantitative","scale":{"domain":[-31.09,161.87],"nice":false,"zero":false},"axis":null},"y":{"field":"m","type":"quantitative","scale":{"domain":[-408.6,322.58],"nice":false,"zero":false},"axis":null},"y2":{"datum":0}}},
{"data":{"name":"labels"},"transform":[{"filter":"datum.d==7 && datum.k=='t'"}],"mark":{"type":"text","baseline":"bottom","dy":-1,"fontSize":7.5,"font":"Liberation Serif","fill":"#333"},"encoding":{"x":{"field":"km","type":"quantitative"},"y":{"field":"m","type":"quantitative"},"text":{"field":"t"}}},
{"data":{"name":"labels"},"transform":[{"filter":"datum.d==7 && datum.k=='i'"}],"mark":{"type":"text","baseline":"top","dy":2.5,"fontSize":7.5,"font":"Liberation Serif","fill":"#2d7d3f"},"encoding":{"x":{"field":"km","type":"quantitative"},"y":{"field":"m","type":"quantitative"},"text":{"field":"t"}}},
{"data":{"name":"towns"},"transform":[{"filter":"datum.d==7"}],"mark":{"type":"text","baseline":"top","dy":4.5,"fontSize":6,"lineHeight":6.2,"lineBreak":"\n","font":"Noto Sans CJK TC","fill":"#555"},"encoding":{"x":{"field":"km","type":"quantitative"},"y":{"datum":0},"text":{"field":"t"}}},
{"data":{"name":"days"},"transform":[{"filter":"datum.d==7"}],"mark":{"type":"text","align":"left","baseline":"middle","dy":10,"fontSize":16,"font":"Noto Sans CJK TC","fill":"#666"},"encoding":{"x":{"datum":-30.2},"y":{"datum":0},"text":{"field":"name"}}},
{"data":{"name":"days"},"transform":[{"filter":"datum.d==7"}],"mark":{"type":"text","align":"left","baseline":"middle","dy":31,"fontSize":8.8,"font":"Noto Sans CJK TC","fill":"#555"},"encoding":{"x":{"datum":-18.7},"y":{"datum":0},"text":{"field":"dest"}}}
]},
{"width":422,"height":85,"layer":[
{"data":{"name":"profile"},"transform":[{"filter":"datum.d==8"}],"mark":{"type":"area","fill":"#88e2b8","stroke":"#2f5d45","strokeWidth":0.8},"encoding":{"x":{"field":"km","type":"quantitative","scale":{"domain":[-31.09,161.87],"nice":false,"zero":false},"axis":null},"y":{"field":"m","type":"quantitative","scale":{"domain":[-530.86,518.52],"nice":false,"zero":false},"axis":null},"y2":{"datum":0}}},
{"data":{"name":"labels"},"transform":[{"filter":"datum.d==8 && datum.k=='t'"}],"mark":{"type":"text","baseline":"bottom","dy":-1,"fontSize":7.5,"font":"Liberation Serif","fill":"#333"},"encoding":{"x":{"field":"km","type":"quantitative"},"y":{"field":"m","type":"quantitative"},"text":{"field":"t"}}},
{"data":{"name":"towns"},"transform":[{"filter":"datum.d==8"}],"mark":{"type":"text","baseline":"top","dy":2.5,"fontSize":6,"lineHeight":6.2,"lineBreak":"\n","font":"Noto Sans CJK TC","fill":"#555"},"encoding":{"x":{"field":"km","type":"quantitative"},"y":{"datum":0},"text":{"field":"t"}}},
{"data":{"name":"days"},"transform":[{"filter":"datum.d==8"}],"mark":{"type":"text","align":"left","baseline":"middle","dy":8,"fontSize":16,"font":"Noto Sans CJK TC","fill":"#666"},"encoding":{"x":{"datum":-30.2},"y":{"datum":0},"text":{"field":"name"}}},
{"data":{"name":"days"},"transform":[{"filter":"datum.d==8"}],"mark":{"type":"text","align":"left","baseline":"middle","dy":34,"fontSize":8.6,"font":"Noto Sans CJK TC","fill":"#555"},"encoding":{"x":{"datum":-17.4},"y":{"datum":0},"text":{"field":"dest"}}}
]},
{"width":422,"height":103,"layer":[
{"data":{"name":"profile"},"transform":[{"filter":"datum.d==9"}],"mark":{"type":"area","fill":"#88e2b8","stroke":"#2f5d45","strokeWidth":0.8},"encoding":{"x":{"field":"km","type":"quantitative","scale":{"domain":[-31.09,161.87],"nice":false,"zero":false},"axis":null},"y":{"field":"m","type":"quantitative","scale":{"domain":[-523.81,702.38],"nice":false,"zero":false},"axis":null},"y2":{"datum":0}}},
{"data":{"name":"labels"},"transform":[{"filter":"datum.d==9 && datum.k=='t'"}],"mark":{"type":"text","baseline":"bottom","dy":-1,"fontSize":7.5,"font":"Liberation Serif","fill":"#333"},"encoding":{"x":{"field":"km","type":"quantitative"},"y":{"field":"m","type":"quantitative"},"text":{"field":"t"}}},
{"data":{"name":"labels"},"transform":[{"filter":"datum.d==9 && datum.k=='i'"}],"mark":{"type":"text","baseline":"top","dy":1,"fontSize":7.5,"font":"Liberation Serif","fill":"#2d7d3f"},"encoding":{"x":{"field":"km","type":"quantitative"},"y":{"field":"m","type":"quantitative"},"text":{"field":"t"}}},
{"data":{"name":"towns"},"transform":[{"filter":"datum.d==9"}],"mark":{"type":"text","baseline":"top","dy":2,"fontSize":6,"lineHeight":6.2,"lineBreak":"\n","font":"Noto Sans CJK TC","fill":"#555"},"encoding":{"x":{"field":"km","type":"quantitative"},"y":{"datum":0},"text":{"field":"t"}}},
{"data":{"name":"days"},"transform":[{"filter":"datum.d==9"}],"mark":{"type":"text","align":"left","baseline":"middle","dy":6,"fontSize":16,"font":"Noto Sans CJK TC","fill":"#666"},"encoding":{"x":{"datum":-30.2},"y":{"datum":0},"text":{"field":"name"}}},
{"data":{"name":"days"},"transform":[{"filter":"datum.d==9"}],"mark":{"type":"text","align":"left","baseline":"middle","dy":34,"fontSize":8.8,"font":"Noto Sans CJK TC","fill":"#555"},"encoding":{"x":{"datum":-17.4},"y":{"datum":0},"text":{"field":"dest"}}}
]}
]
}
